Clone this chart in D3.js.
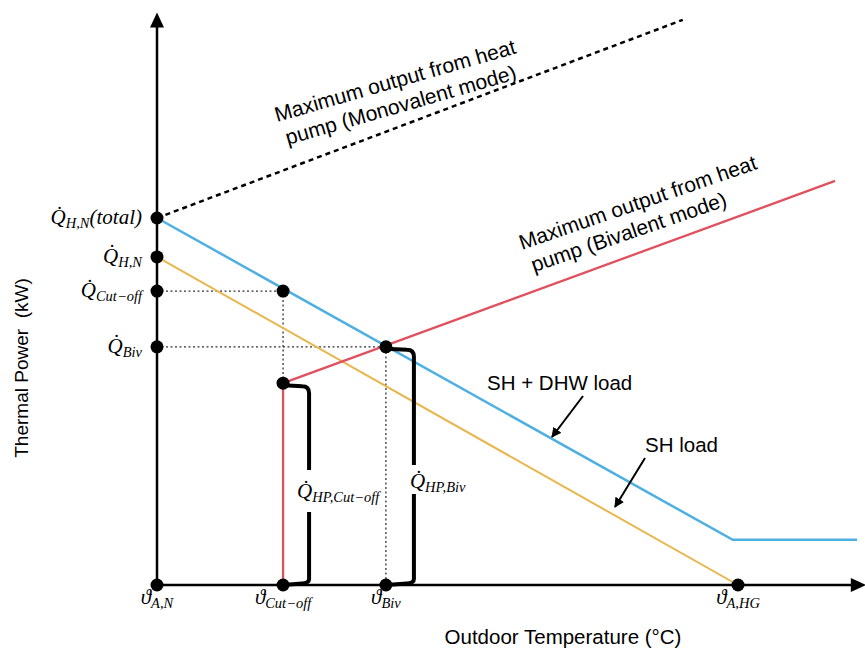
<!DOCTYPE html>
<html>
<head>
<meta charset="utf-8">
<script src="https://cdn.jsdelivr.net/npm/d3@7"></script>
<style>
  body { margin: 0; background: #fff; }
  svg { display: block; }
</style>
</head>
<body>
<svg id="chart" width="865" height="651"></svg>
<script>
// schematic units: 0..100 between the design points on both axes
const xTickSubs = ["A,N", "Cut\u2212off", "Biv", "A,HG"];
const xTickValues = [0, 21.7, 39.4, 100];

const yTickSubs = ["H,N", "H,N", "Cut\u2212off", "Biv"];
const yTickTails = ["(total)", "", "", ""];
const yTickValues = [100, 89.4, 80.1, 64.9];

const totalLoad = [[0, 100], [99.1, 12.3], [120.5, 12.3]];
const shLoad = [[0, 89.4], [100, 0]];
const bivalentOutput = [[21.7, 0], [21.7, 55], [116.7, 110.1]];
const monovalentOutput = [[0, 100], [90.5, 154]];

const cutoffPoint = [21.7, 80.1];
const bivPoint = [39.4, 64.9];
const cutoffStart = [21.7, 55];

const svg = d3.select("#chart");

const x = d3.scaleLinear().domain([0, 100]).range([157, 738]);
const y = d3.scaleLinear().domain([0, 100]).range([585, 218]);

const line = d3.line().x(d => x(d[0])).y(d => y(d[1]));

const mathFont = "'Liberation Serif', 'DejaVu Serif', serif";
const sansFont = "'Liberation Sans', Arial, sans-serif";

const defs = svg.append("defs");
defs.append("marker")
    .attr("id", "arrow")
    .attr("viewBox", "0 0 10 10")
    .attr("refX", 9).attr("refY", 5)
    .attr("markerWidth", 10).attr("markerHeight", 10)
    .attr("markerUnits", "userSpaceOnUse")
    .attr("orient", "auto")
  .append("path")
    .attr("d", "M0,0 L10,5 L0,10 Z")
    .attr("fill", "#000");

// dotted guide lines
const guides = [
    [[0, cutoffPoint[1]], cutoffPoint, cutoffStart],
    [[0, bivPoint[1]], bivPoint, [bivPoint[0], 0]]
];
svg.selectAll("path.guide").data(guides).enter()
    .append("path")
    .classed("guide", true)
    .attr("d", line)
    .attr("fill", "none")
    .attr("stroke", "#333")
    .attr("stroke-width", 1.3)
    .attr("stroke-dasharray", "2,2.5");

// load and output lines
const series = [
    {d: shLoad, color: "#e8b64c", dash: null, w: 2},
    {d: totalLoad, color: "#4eb0e2", dash: null, w: 2.5},
    {d: bivalentOutput, color: "#e0505e", dash: null, w: 2.3},
    {d: monovalentOutput, color: "#000", dash: "5,4", w: 2.5}
];
svg.selectAll("path.series").data(series).enter()
    .append("path")
    .classed("series", true)
    .attr("d", s => line(s.d))
    .attr("fill", "none")
    .attr("stroke", s => s.color)
    .attr("stroke-width", s => s.w)
    .attr("stroke-dasharray", s => s.dash);

// axes with arrow heads
const xEnd = 122, yEnd = 156;
svg.append("line")
    .attr("x1", x(0)).attr("y1", y(0))
    .attr("x2", x(xEnd) - 12).attr("y2", y(0))
    .attr("stroke", "#000").attr("stroke-width", 2.5);
svg.append("line")
    .attr("x1", x(0)).attr("y1", y(0))
    .attr("x2", x(0)).attr("y2", y(yEnd) + 12)
    .attr("stroke", "#000").attr("stroke-width", 2.5);
svg.append("path")
    .attr("d", `M${x(xEnd)},${y(0)} L${x(xEnd) - 15},${y(0) - 7} L${x(xEnd) - 15},${y(0) + 7} Z`);
svg.append("path")
    .attr("d", `M${x(0)},${y(yEnd)} L${x(0) - 7},${y(yEnd) + 15} L${x(0) + 7},${y(yEnd) + 15} Z`);

// heat pump share brackets
function bracket(top, bottom, dx, gapTop, gapBot) {
    const x0 = x(top[0]), xr = x0 + dx, yt = y(top[1]) + 2, yb = y(bottom[1]);
    return `M${x0},${yt} L${xr - 7},${yt + 1} Q${xr},${yt + 1} ${xr},${yt + 8} L${xr},${gapTop}` +
           ` M${xr},${gapBot} L${xr},${yb - 6} Q${xr},${yb - 2} ${xr - 7},${yb - 1.5} L${x0},${yb}`;
}
const brackets = [
    {top: cutoffStart, bottom: [cutoffStart[0], 0], dx: 26, gapTop: 470, gapBot: 512},
    {top: bivPoint, bottom: [bivPoint[0], 0], dx: 28, gapTop: 465, gapBot: 494}
];
svg.selectAll("path.bracket").data(brackets).enter()
    .append("path")
    .classed("bracket", true)
    .attr("d", b => bracket(b.top, b.bottom, b.dx, b.gapTop, b.gapBot))
    .attr("fill", "none")
    .attr("stroke", "#000")
    .attr("stroke-width", 4)
    .attr("stroke-linejoin", "round");

// dots
const dots = [].concat(
    yTickValues.map(v => [0, v]),
    xTickValues.map(v => [v, 0]),
    [cutoffPoint, bivPoint, cutoffStart]
);
svg.selectAll("circle.dot").data(dots).enter()
    .append("circle")
    .classed("dot", true)
    .attr("cx", d => x(d[0]))
    .attr("cy", d => y(d[1]))
    .attr("r", 6.5)
    .attr("fill", "#000");

// math labels: symbol, subscript, optional tail
function mathLabel(g, sym, sub, tail) {
    g.attr("font-family", mathFont).attr("font-style", "italic").attr("fill", "#000");
    g.append("tspan").attr("font-size", 21).text(sym);
    g.append("tspan").attr("font-size", 14.5).attr("dy", 4).text(sub);
    if (tail) g.append("tspan").attr("font-size", 21).attr("dy", -4).text(tail);
}

yTickValues.forEach((v, i) => {
    const t = svg.append("text")
        .attr("x", x(0) - 15)
        .attr("y", y(v) + 6)
        .attr("text-anchor", "end");
    mathLabel(t, "Q\u0307", yTickSubs[i], yTickTails[i]);
});

xTickValues.forEach((v, i) => {
    const t = svg.append("text")
        .attr("x", x(v))
        .attr("y", y(0) + 19)
        .attr("text-anchor", "middle");
    mathLabel(t, "\u03D1", xTickSubs[i], "");
});

mathLabel(svg.append("text").attr("x", x(cutoffStart[0]) + 14).attr("y", 498), "Q\u0307", "HP,Cut\u2212off", "");
mathLabel(svg.append("text").attr("x", x(bivPoint[0]) + 24).attr("y", 488), "Q\u0307", "HP,Biv", "");

// axis titles
svg.append("text")
    .attr("transform", `translate(28,${368}) rotate(-90)`)
    .attr("text-anchor", "middle")
    .attr("font-family", sansFont)
    .attr("font-size", 19)
    .attr("xml:space", "preserve")
    .text("Thermal Power  (kW)");
svg.append("text")
    .attr("x", 563).attr("y", 644)
    .attr("text-anchor", "middle")
    .attr("font-family", sansFont)
    .attr("font-size", 20.5)
    .text("Outdoor Temperature (\u00B0C)");

// rotated annotations
function note(tx, ty, angle, l1, l2) {
    const t = svg.append("text")
        .attr("transform", `translate(${tx},${ty}) rotate(${angle})`)
        .attr("font-family", sansFont)
        .attr("font-size", 21);
    t.append("tspan").attr("x", 0).attr("y", 0).text(l1);
    t.append("tspan").attr("x", 4).attr("y", 25).text(l2);
}
note(277, 122, -16, "Maximum output from heat", "pump (Monovalent mode)");
note(522, 250, -19, "Maximum output from heat", "pump (Bivalent mode)");

// load callouts
svg.append("text")
    .attr("x", 487).attr("y", 390)
    .attr("font-family", sansFont).attr("font-size", 20.5)
    .text("SH + DHW load");
svg.append("line")
    .attr("x1", 583).attr("y1", 396).attr("x2", 552).attr("y2", 437)
    .attr("stroke", "#000").attr("stroke-width", 2)
    .attr("marker-end", "url(#arrow)");
svg.append("text")
    .attr("x", 645).attr("y", 452)
    .attr("font-family", sansFont).attr("font-size", 20.5)
    .text("SH load");
svg.append("line")
    .attr("x1", 645).attr("y1", 458).attr("x2", 615).attr("y2", 507)
    .attr("stroke", "#000").attr("stroke-width", 2)
    .attr("marker-end", "url(#arrow)");
</script>
</body>
</html>
